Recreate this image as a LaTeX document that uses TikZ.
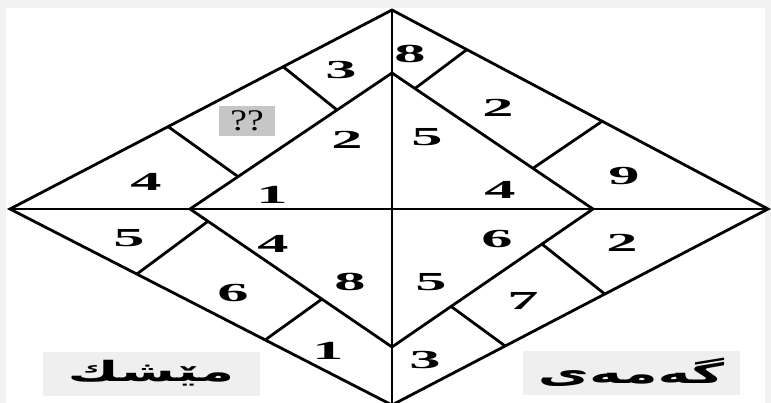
\documentclass[tikz,border=0pt]{standalone}
\usepackage{fontspec}
\usepackage{tikz}
\usetikzlibrary{calc}
\setmainfont{Liberation Serif}
\newfontfamily\digitfont[FakeStretch=2.4]{Liberation Serif Bold}
\newfontfamily\askfont[FakeStretch=1.25]{Liberation Serif}
\newfontfamily\arabicfont[Script=Arabic,FakeStretch=2.0]{DejaVu Sans Bold}
\TeXXeTstate=1
\definecolor{frame}{HTML}{F2F2F2}
\definecolor{namegray}{HTML}{EFEFEF}
\definecolor{askgray}{HTML}{C6C6C6}

\begin{document}
\begin{tikzpicture}[x=1pt, y=-1pt, line width=2.8pt,
  num/.style={font=\digitfont\fontsize{26}{26}\selectfont, inner sep=0pt},
  namebox/.style={fill=namegray, minimum width=217pt, minimum height=44pt, inner sep=0pt,
    font=\arabicfont\fontsize{28}{28}\selectfont}]
  \fill[frame] (0,0) rectangle (771,403);
  \fill[white] (6,8) rectangle (765,403);
  \useasboundingbox (0,0) rectangle (771,403);

  % outer and inner diamond
  \coordinate (T) at (392,10);
  \coordinate (R) at (768,209);
  \coordinate (B) at (392,405);
  \coordinate (L) at (10,209);
  \coordinate (t) at (392,73);
  \coordinate (r) at (593,209);
  \coordinate (b) at (392,347);
  \coordinate (l) at (190,209);
  \draw (T) -- (R) -- (B) -- (L) -- cycle;
  \draw (t) -- (r) -- (b) -- (l) -- cycle;
  \draw (L) -- (R);
  \draw (T) -- (B);

  % dividers in the bands
  \coordinate (ulo1) at ($(L)!0.715!(T)$);
  \coordinate (uli1) at ($(l)!0.728!(t)$);
  \coordinate (ulo2) at ($(L)!0.414!(T)$);
  \coordinate (uli2) at ($(l)!0.238!(t)$);
  \coordinate (uro1) at ($(T)!0.199!(R)$);
  \coordinate (uri1) at ($(t)!0.114!(r)$);
  \coordinate (uro2) at ($(T)!0.559!(R)$);
  \coordinate (uri2) at ($(t)!0.701!(r)$);
  \coordinate (llo1) at ($(L)!0.332!(B)$);
  \coordinate (lli1) at ($(l)!0.089!(b)$);
  \coordinate (llo2) at ($(L)!0.668!(B)$);
  \coordinate (lli2) at ($(l)!0.653!(b)$);
  \coordinate (lro1) at ($(R)!0.434!(B)$);
  \coordinate (lri1) at ($(r)!0.254!(b)$);
  \coordinate (lro2) at ($(R)!0.699!(B)$);
  \coordinate (lri2) at ($(r)!0.706!(b)$);
  \draw (ulo1) -- (uli1);
  \draw (ulo2) -- (uli2);
  \draw (uro1) -- (uri1);
  \draw (uro2) -- (uri2);
  \draw (llo1) -- (lli1);
  \draw (llo2) -- (lli2);
  \draw (lro1) -- (lri1);
  \draw (lro2) -- (lri2);

  % upper left
  \node[num] (ul3) at (341,70) {3};
  \node[fill=askgray, minimum width=56pt, minimum height=30pt, inner sep=0pt,
    font=\askfont\fontsize{30}{30}\selectfont] (ask) at (247,121) {??};
  \node[num] (ul4) at (146,182) {4};
  \node[num] (ul2) at (347,140) {2};
  \node[num] (ul1) at (272,195) {1};
  % upper right
  \node[num] (ur8) at (410,54) {8};
  \node[num] (ur2) at (498,108) {2};
  \node[num] (ur9) at (624,176) {9};
  \node[num] (ur5) at (427,137) {5};
  \node[num] (ur4) at (500,190) {4};
  % lower left
  \node[num] (ll5) at (129,238) {5};
  \node[num] (ll6) at (233,293) {6};
  \node[num] (ll1) at (328,351) {1};
  \node[num] (ll4) at (273,244) {4};
  \node[num] (ll8) at (350,282) {8};
  % lower right
  \node[num] (lr6) at (497,239) {6};
  \node[num] (lr2) at (622,243) {2};
  \node[num] (lr7) at (523,301) {7};
  \node[num] (lr5) at (431,282) {5};
  \node[num] (lr3) at (425,360) {3};

  % names
  \node[namebox] (brain) at (151,373.5) {\beginR مێشك\endR};
  \node[namebox] (game) at (631,372.5) {\beginR گەمەی\endR};
\end{tikzpicture}
\end{document}
